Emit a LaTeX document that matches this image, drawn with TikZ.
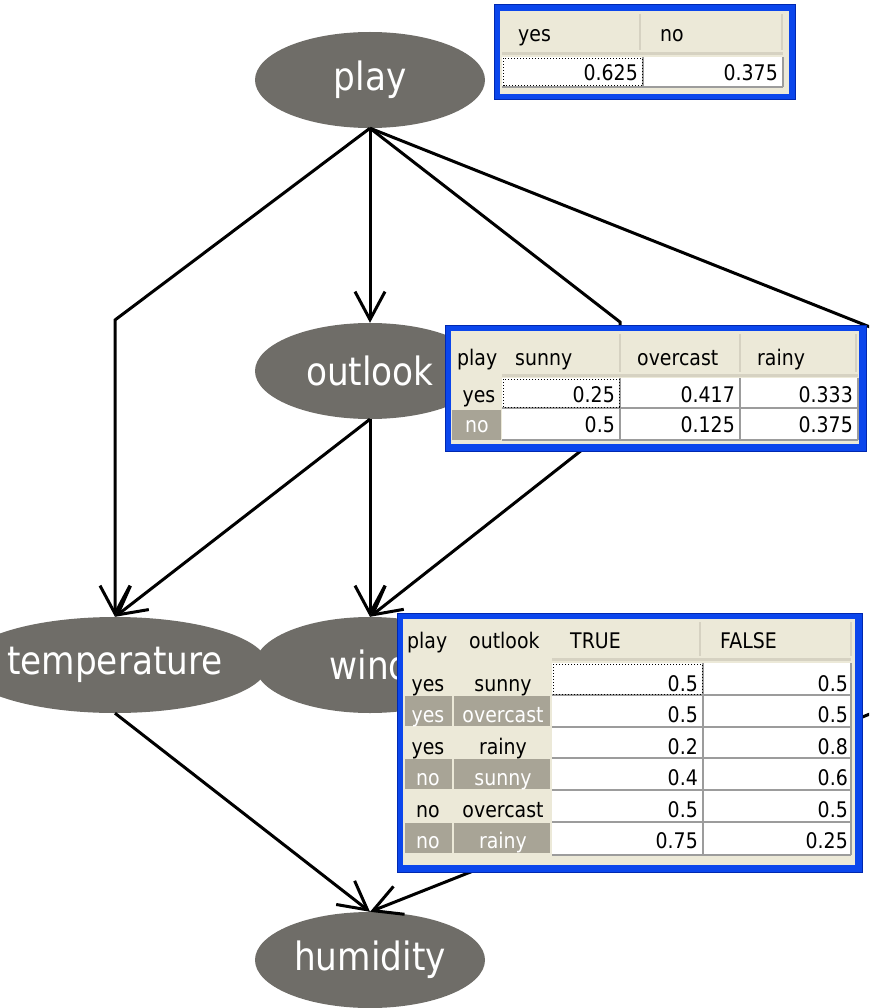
\documentclass[tikz,border=0pt]{standalone}
\usepackage{fontspec}
\usetikzlibrary{shapes.geometric,arrows.meta}
\newfontfamily\nodefont[FakeStretch=0.88]{DejaVu Sans}
\newfontfamily\tabfont[FakeStretch=0.88]{DejaVu Sans}
\definecolor{nodegray}{HTML}{6F6D68}
\definecolor{xpblue}{HTML}{0B46EC}
\definecolor{xpdark}{HTML}{0028B0}
\definecolor{beige}{HTML}{ECE9D8}
\definecolor{selgray}{HTML}{A8A496}
\definecolor{gridgray}{HTML}{9C9C9C}
\definecolor{hdrline}{HTML}{D6D2C2}
\begin{document}
\begin{tikzpicture}[x=1pt,y=-1pt,
  bn/.style={ellipse, fill=nodegray, minimum width=230pt, minimum height=96pt, inner sep=0pt, text=white, font=\nodefont\fontsize{39}{41}\selectfont},
  edge/.style={line width=3pt, -{Straight Barb[length=28pt,width=30pt]}},
  lbl/.style={font=\tabfont\fontsize{21.5}{23}\selectfont, inner sep=0pt},
  hl/.style={lbl, anchor=base west},
  nr/.style={lbl, anchor=base east},
  rc/.style={lbl, anchor=base},
  sel/.style={rc, text=white},
  xpframe/.style={fill=xpblue, draw=xpdark, line width=1pt},
  cellline/.style={draw=gridgray, line width=1.2pt},
  focus/.style={draw=black, dotted, line width=1pt},
  hdiv/.style={draw=hdrline, line width=2pt},
  hbot/.style={draw=hdrline, line width=3pt}]
\useasboundingbox (0,0) rectangle (869,1008);
\clip (0,0) rectangle (869,1008);

% ---- nodes
\node[bn] (play) at (370,80) {play};
\node[bn] (outlook) at (370,371) {outlook};
\node[bn] (temperature) at (115,665) {temperature};
\node[bn] (wind) at (370,665) {wind};
\node[bn] (humidity) at (370,960) {humidity};

% ---- bends
\coordinate (c1) at (115,320);
\coordinate (c2) at (620,322);
\coordinate (c3) at (620,420);
\coordinate (c4) at (880,331);
\coordinate (c5) at (880,710);

% ---- edges
\draw[edge] (play.south) -- (c1) -- (temperature.north);
\draw[edge] (play.south) -- (outlook.north);
\draw[edge] (play.south) -- (c2) -- (c3) -- (wind.north);
\draw[edge] (play.south) -- (c4) -- (c5) -- (humidity.north);
\draw[edge] (outlook.south) -- (temperature.north);
\draw[edge] (outlook.south) -- (wind.north);
\draw[edge] (temperature.south) -- (humidity.north);

% ---- table: play
\path[xpframe] (494,5) rectangle (795,100);
\fill[beige] (500,11) rectangle (789,94);
\draw[hdiv] (640,14) -- (640,50);
\draw[hdiv] (782,14) -- (782,50);
\draw[hbot] (502,54) -- (783,54);
\fill[white] (502,57) rectangle (783,87);
\draw[cellline] (502,87) -- (783,87) (643,57) -- (643,87) (783,57) -- (783,87);
\draw[focus] (503.5,58.5) rectangle (642,86);
\node[hl] (p-yes) at (518,42) {yes};
\node[hl] (p-no) at (660,42) {no};
\node[nr] (p-v1) at (638,81) {0.625};
\node[nr] (p-v2) at (778,81) {0.375};

% ---- table: outlook
\path[xpframe] (445,325) rectangle (866,451);
\fill[beige] (451,331) rectangle (859,444);
\draw[hdiv] (620,334) -- (620,372);
\draw[hdiv] (740,334) -- (740,372);
\draw[hdiv] (856,334) -- (856,372);
\draw[hbot] (502,375) -- (858,375);
\fill[white] (502,378) rectangle (858,440);
\fill[selgray] (452,410) rectangle (501,440);
\draw[cellline] (502,408) -- (858,408) (502,440) -- (858,440)
  (620,378) -- (620,440) (740,378) -- (740,440) (858,378) -- (858,440);
\draw[focus] (503,379) rectangle (619,407);
\node[hl] (o-play) at (457,365) {play};
\node[hl] (o-sunny) at (515,365) {sunny};
\node[hl] (o-overcast) at (637,365) {overcast};
\node[hl] (o-rainy) at (757,365) {rainy};
\node[rc] (o-yes) at (479,402) {yes};
\node[sel] (o-no) at (477,432) {no};
\node[nr] (o-11) at (615,402) {0.25};
\node[nr] (o-12) at (735,402) {0.417};
\node[nr] (o-13) at (853,402) {0.333};
\node[nr] (o-21) at (615,432) {0.5};
\node[nr] (o-22) at (735,432) {0.125};
\node[nr] (o-23) at (853,432) {0.375};

% ---- table: windy
\path[xpframe] (397,613) rectangle (862,872);
\fill[beige] (403,619) rectangle (855,865);
\draw[hdiv] (700,622) -- (700,656);
\draw[hdiv] (851,622) -- (851,656);
\draw[hbot] (552,659) -- (851,659);
\fill[white] (552,663) rectangle (851,855);
\foreach \r in {695,758,822} {
  \fill[selgray] (405,\r+1) rectangle (452,\r+31);
  \fill[selgray] (454,\r+1) rectangle (550,\r+31);
}
\draw[cellline] (552,695) -- (851,695) (552,727) -- (851,727) (552,758) -- (851,758)
  (552,790) -- (851,790) (552,822) -- (851,822) (552,855) -- (851,855)
  (703,663) -- (703,855) (851,663) -- (851,855);
\draw[focus] (553,664) rectangle (702,694);
\node[hl] (w-play) at (407,648) {play};
\node[hl] (w-outlook) at (469,648) {outlook};
\node[hl] (w-true) at (570,648) {TRUE};
\node[hl] (w-false) at (720,648) {FALSE};
\node[rc] (w-p1) at (428,691) {yes};
\node[rc] (w-o1) at (503,691) {sunny};
\node[sel] (w-p2) at (428,722) {yes};
\node[sel] (w-o2) at (503,722) {overcast};
\node[rc] (w-p3) at (428,754) {yes};
\node[rc] (w-o3) at (503,754) {rainy};
\node[sel] (w-p4) at (428,785) {no};
\node[sel] (w-o4) at (503,785) {sunny};
\node[rc] (w-p5) at (428,817) {no};
\node[rc] (w-o5) at (503,817) {overcast};
\node[sel] (w-p6) at (428,848) {no};
\node[sel] (w-o6) at (503,848) {rainy};
\node[nr] (w-t1) at (698,691) {0.5};
\node[nr] (w-f1) at (848,691) {0.5};
\node[nr] (w-t2) at (698,722) {0.5};
\node[nr] (w-f2) at (848,722) {0.5};
\node[nr] (w-t3) at (698,754) {0.2};
\node[nr] (w-f3) at (848,754) {0.8};
\node[nr] (w-t4) at (698,785) {0.4};
\node[nr] (w-f4) at (848,785) {0.6};
\node[nr] (w-t5) at (698,817) {0.5};
\node[nr] (w-f5) at (848,817) {0.5};
\node[nr] (w-t6) at (698,848) {0.75};
\node[nr] (w-f6) at (848,848) {0.25};
\end{tikzpicture}
\end{document}
